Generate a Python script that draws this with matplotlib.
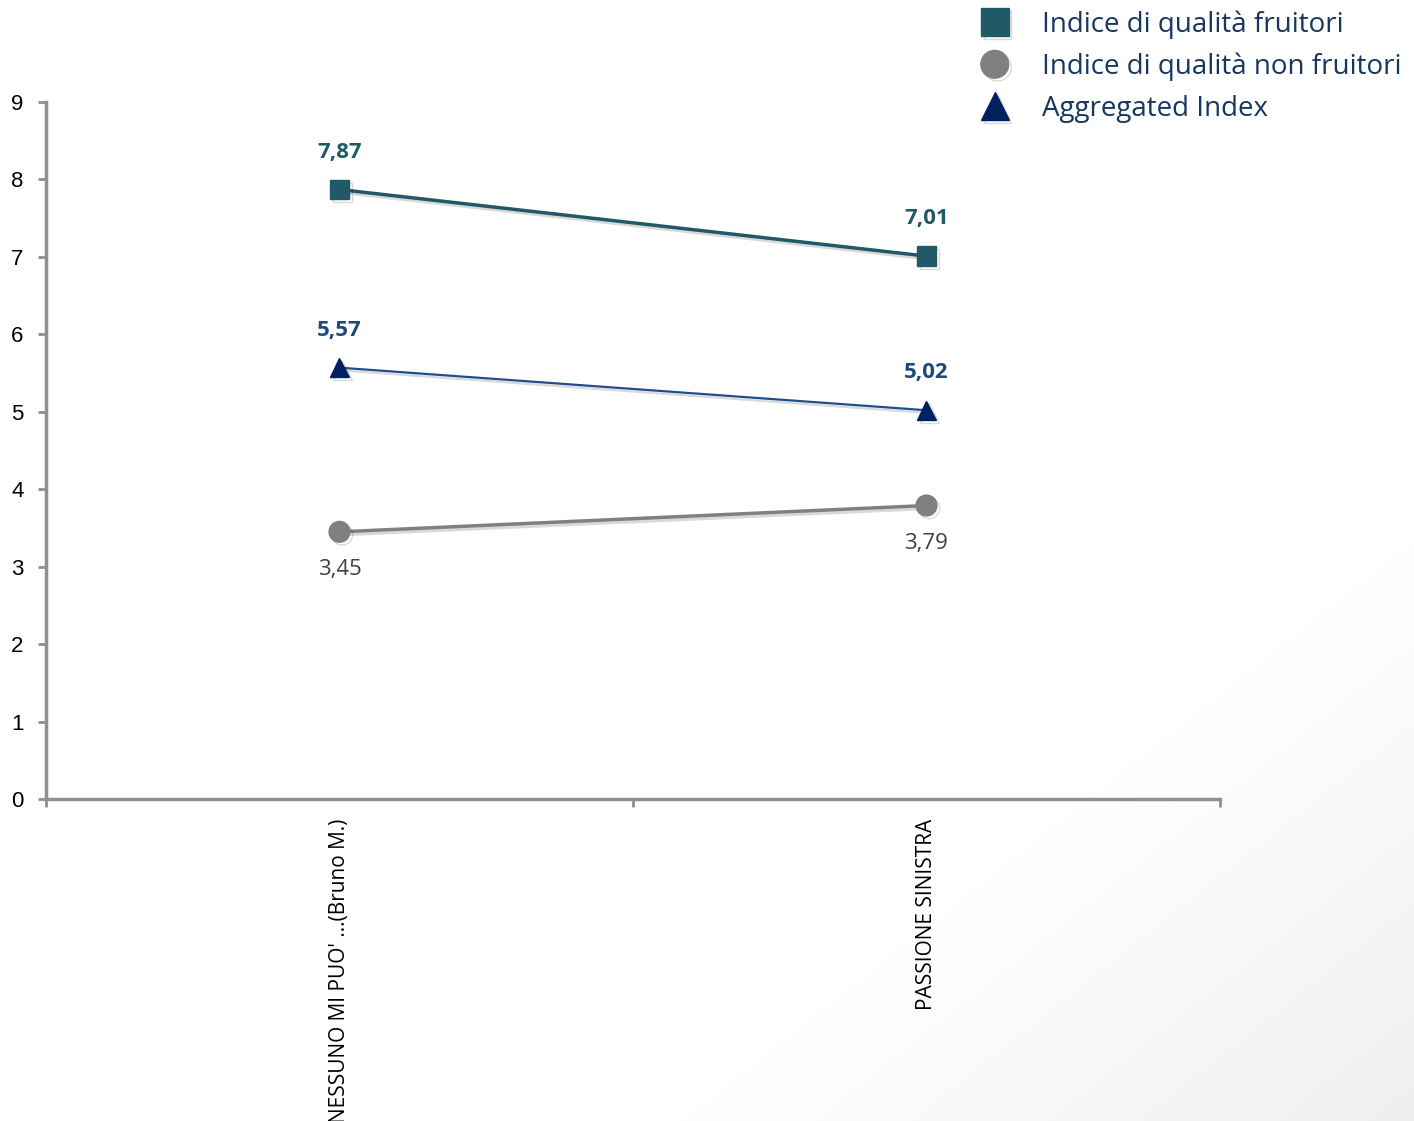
import numpy as np
import matplotlib
matplotlib.use("Agg")
import matplotlib.pyplot as plt
import matplotlib.patheffects as pe

categories = ["NESSUNO MI PUO' ...(Bruno M.)", "PASSIONE SINISTRA"]
fruitori = [7.87, 7.01]
non_fruitori = [3.45, 3.79]
aggregated = [5.57, 5.02]
labels = ["Indice di qualità fruitori", "Indice di qualità non fruitori", "Aggregated Index"]

c_teal = "#215968"
c_grey = "#808080"
c_navy = "#002060"
c_navy_line = "#1F4E8C"

fig = plt.figure(figsize=(14.14, 11.21), dpi=100)

# soft grey gradient in bottom right corner
bg = fig.add_axes([0, 0, 1, 1], zorder=-10)
gx, gy = np.meshgrid(np.linspace(0, 1, 300), np.linspace(0, 1, 300))
g = np.clip((gx + (1 - gy)) - 1.45, 0, None)
bg.imshow(1 - 0.12 * g, cmap="gray", vmin=0, vmax=1, extent=[0, 1, 0, 1],
          aspect="auto", origin="lower")
bg.axis("off")

ax = fig.add_axes([0.0325, 0.2872, 0.8303, 0.6218])
ax.patch.set_alpha(0)
x = np.arange(len(categories))
shadow = [pe.SimpleLineShadow(offset=(2, -2), alpha=0.15), pe.Normal()]

ax.plot(x, fruitori, color=c_teal, lw=2.5, marker="s", ms=14, mfc=c_teal, mec=c_teal,
        label=labels[0], path_effects=shadow, zorder=3)
ax.plot(x, non_fruitori, color=c_grey, lw=2.5, marker="o", ms=15, mfc=c_grey, mec=c_grey,
        label=labels[1], path_effects=shadow, zorder=3)
ax.plot(x, aggregated, color=c_navy_line, lw=1.6, marker="^", ms=14, mfc=c_navy, mec=c_navy,
        label=labels[2], path_effects=shadow, zorder=3)

font = "Open Sans"
for xi, v in zip(x, fruitori):
    ax.annotate(f"{v:.2f}".replace(".", ","), (xi, v), xytext=(0, 27), textcoords="offset points",
                ha="center", va="center", color=c_teal, fontsize=16, fontweight="bold", family=font)
for xi, v in zip(x, aggregated):
    ax.annotate(f"{v:.2f}".replace(".", ","), (xi, v), xytext=(0, 27), textcoords="offset points",
                ha="center", va="center", color="#1F497D", fontsize=16, fontweight="bold", family=font)
for xi, v in zip(x, non_fruitori):
    ax.annotate(f"{v:.2f}".replace(".", ","), (xi, v), xytext=(0, -27), textcoords="offset points",
                ha="center", va="center", color="#404040", fontsize=16, family=font)

ax.set_xlim(-0.5, 1.5)
ax.set_ylim(0, 9)
ax.set_yticks(range(10))
ax.set_xticks([-0.5, 0.5, 1.5])
ax.set_xticklabels([])
ax.set_xticks(x, minor=True)
ax.set_xticklabels(categories, minor=True, rotation=90, fontsize=15, family=font,
                   va="top", color="black")
ax.tick_params(axis="x", which="minor", length=0, pad=14)
ax.tick_params(axis="x", which="major", length=6, width=2, color="#909090", direction="out")
ax.tick_params(axis="y", length=6, width=2, color="#909090", labelsize=16, pad=10)
for lab in ax.get_yticklabels():
    lab.set_family("Liberation Sans")
for s in ["top", "right"]:
    ax.spines[s].set_visible(False)
for s in ["left", "bottom"]:
    ax.spines[s].set_color("#909090")
    ax.spines[s].set_linewidth(2.5)

leg = fig.legend(loc="upper left", bbox_to_anchor=(0.676, 1.013), frameon=False,
                 prop={"family": font, "size": 20}, labelcolor="#17375E",
                 handlelength=1.0, handletextpad=1.2, labelspacing=0.49)
for h in leg.legend_handles:
    h.set_linestyle("none")
    h.set_markersize(20)

fig.savefig("out.png", dpi=100)
